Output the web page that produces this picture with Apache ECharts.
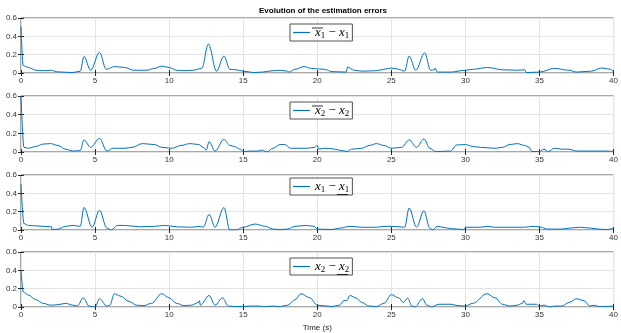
<!DOCTYPE html>
<html>
<head>
<meta charset="utf-8">
<script src="https://cdn.jsdelivr.net/npm/echarts@6/dist/echarts.min.js"></script>
<style>
  html, body { margin: 0; padding: 0; background: #fff; }
  #chart { width: 621px; height: 333px; }
</style>
</head>
<body>
<div id="chart"></div>
<script>
// time (s), error value
const err1 = [
  [0, 0.51], [0.15, 0.08], [0.5, 0.06], [1, 0.03], [1.5, 0.025], [2, 0.03], [2.5, 0.012], [3.5, 0.005],
  [4, 0.02], [4.25, 0.18], [4.7, 0.03], [5.3, 0.225], [5.75, 0.04], [6.3, 0.07], [7, 0.06], [7.6, 0.03],
  [8.5, 0.03], [9, 0.05], [9.5, 0.075], [10, 0.06], [10.5, 0.03], [11, 0.025], [11.6, 0.03], [12.2, 0.05],
  [12.65, 0.315], [13.2, 0.02], [13.7, 0.185], [14.1, 0.04], [14.5, 0.035], [15, 0.02], [15.7, 0.005],
  [16.3, 0.01], [17, 0.025], [17.5, 0.03], [18, 0.02], [18.1, 0.01], [18.5, 0.04], [19.1, 0.07],
  [19.6, 0.05], [20, 0.045], [20.5, 0.04], [21, 0.015], [21.95, 0.01], [22.05, 0.065], [22.5, 0.03],
  [23, 0.02], [24, 0.025], [24.5, 0.04], [25, 0.055], [25.5, 0.04], [25.9, 0.02], [26.2, 0.185],
  [26.65, 0.03], [27.25, 0.22], [27.65, 0.03], [27.9, 0.035], [27.95, 0.055], [28.1, 0.01], [29, 0.01],
  [30, 0.03], [30.5, 0.04], [31.5, 0.06], [32.5, 0.035], [33.5, 0.03], [34, 0.035], [34.1, 0.005],
  [35, 0.01], [36, 0.05], [37, 0.03], [37.5, 0.01], [38.5, 0.02], [39.2, 0.055], [39.8, 0.04], [40, 0.01]
];
const err2 = [
  [0, 0.6], [0.2, 0.05], [0.5, 0.04], [1, 0.06], [1.5, 0.085], [2, 0.09], [2.5, 0.07], [3, 0.03],
  [3.5, 0.01], [4, 0.015], [4.25, 0.13], [4.7, 0.05], [5.3, 0.145], [5.8, 0.01], [6.2, 0.04], [7, 0.04],
  [7.5, 0.05], [8.2, 0.09], [9, 0.08], [9.5, 0.05], [10.2, 0.04], [10.8, 0.07], [11.4, 0.09], [12, 0.08],
  [12.3, 0.05], [12.5, 0.02], [12.7, 0.11], [13.1, 0.01], [13.7, 0.135], [14.1, 0.07], [14.4, 0.06],
  [14.8, 0.03], [15, 0.005], [15.5, 0.01], [16, 0.01], [16.3, 0.02], [16.6, 0.0], [17, 0.04],
  [17.5, 0.08], [17.8, 0.08], [18.2, 0.04], [18.8, 0.04], [19.3, 0.04], [19.8, 0.05], [20, 0.07],
  [20.1, 0.03], [20.5, 0.04], [21, 0.035], [21.5, 0.02], [22, 0.005], [22.3, 0.03], [23, 0.04],
  [23.5, 0.07], [24, 0.09], [24.5, 0.07], [25, 0.04], [25.7, 0.05], [26.2, 0.13], [26.7, 0.05],
  [27.2, 0.14], [27.6, 0.04], [28, 0.005], [29, 0.01], [29.4, 0.075], [30, 0.08], [30.5, 0.06],
  [31, 0.05], [32, 0.04], [32.5, 0.05], [33, 0.08], [33.5, 0.09], [34, 0.07], [34.3, 0.05], [34.5, 0.005],
  [35, 0.005], [35.3, 0.03], [35.6, 0.005], [36, 0.04], [36.5, 0.03], [37, 0.03], [37.5, 0.01],
  [38, 0.01], [39, 0.01], [39.5, 0.01], [40, 0.005]
];
const err3 = [
  [0, 0.5], [0.2, 0.07], [0.5, 0.05], [1, 0.045], [2, 0.035], [2.05, 0.04], [2.1, 0.005], [2.5, 0.01],
  [3, 0.04], [3.5, 0.05], [4, 0.04], [4.25, 0.245], [4.8, 0.03], [5.3, 0.215], [5.8, 0.02], [6.1, 0.0],
  [6.5, 0.05], [7, 0.05], [8, 0.035], [9, 0.04], [9.7, 0.05], [10.5, 0.035], [11.5, 0.03], [12.1, 0.04],
  [12.3, 0.03], [12.7, 0.17], [13.1, 0.03], [13.7, 0.245], [14.1, 0.0], [14.5, 0.0], [15, 0.03],
  [15.8, 0.065], [16.5, 0.04], [17, 0.01], [17.5, 0.005], [18, 0.01], [18.5, 0.04], [19.2, 0.05],
  [19.8, 0.04], [20, 0.01], [21, 0.005], [21.5, 0.02], [22.2, 0.04], [23, 0.03], [24, 0.03],
  [24.5, 0.04], [25, 0.04], [25.9, 0.03], [26.2, 0.24], [26.7, 0.03], [27.2, 0.21], [27.6, 0.02],
  [27.8, 0.0], [28.1, 0.04], [28.5, 0.03], [29, 0.015], [29.9, 0.005], [30, 0.03], [31, 0.03],
  [31.5, 0.04], [32, 0.03], [33, 0.03], [34, 0.03], [34.5, 0.04], [35, 0.035], [35.5, 0.01],
  [36.5, 0.01], [37, 0.02], [37.7, 0.03], [38.5, 0.02], [39, 0.01], [39.5, 0.005], [40, 0.02]
];
const err4 = [
  [0, 0.4], [0.15, 0.165], [0.5, 0.13], [1, 0.08], [1.5, 0.04], [2, 0.02], [2.5, 0.025], [3, 0.04],
  [3.5, 0.02], [3.8, 0.01], [4.2, 0.1], [4.6, 0.01], [5, 0.0], [5.3, 0.09], [5.8, 0.01], [6, 0.02],
  [6.3, 0.145], [6.7, 0.12], [7.3, 0.06], [7.8, 0.02], [8.3, 0.015], [8.8, 0.04], [9.5, 0.145],
  [10, 0.1], [10.5, 0.04], [11, 0.015], [11.5, 0.02], [12, 0.05], [12.05, 0.07], [12.1, 0.02],
  [12.7, 0.125], [13.1, 0.02], [13.6, 0.1], [14, 0.01], [14.5, 0.005], [15, 0.005], [15.5, 0.01],
  [16, 0.01], [16.5, 0.005], [17, 0.01], [17.5, 0.005], [18, 0.02], [18.5, 0.08], [18.9, 0.145],
  [19.5, 0.1], [20, 0.02], [21, 0.005], [21.5, 0.02], [21.8, 0.07], [22, 0.07], [22.2, 0.125],
  [22.6, 0.1], [23, 0.05], [23.5, 0.01], [24, 0.005], [24.5, 0.04], [25, 0.135], [25.5, 0.1],
  [25.8, 0.05], [26.1, 0.095], [26.4, 0.01], [26.6, 0.0], [27.1, 0.09], [27.4, 0.02], [27.7, 0.0],
  [28.2, 0.03], [29, 0.03], [29.5, 0.015], [30, 0.01], [30.5, 0.04], [31.45, 0.145], [32, 0.1],
  [32.5, 0.03], [33, 0.01], [33.5, 0.02], [33.85, 0.04], [33.95, 0.07], [34.1, 0.03], [34.8, 0.03],
  [35, 0.01], [35.3, 0.02], [35.7, 0.0], [36, 0.01], [36.5, 0.01], [37, 0.05], [37.5, 0.09],
  [38, 0.07], [38.4, 0.01], [38.7, 0.02], [39, 0.005], [40, 0.01]
];

const seriesData = [err1, err2, err3, err4];
const seriesNames = ['e1', 'e2', 'e3', 'e4'];
const legendSubs = ['1', '2', '1', '2'];

const gridTops = [18, 96, 175, 252];
const gridHeights = [55, 56, 55, 57];
const legendTops = [24, 102, 178, 258];

const chart = echarts.init(document.getElementById('chart'));

const grids = [];
const xAxes = [];
const yAxes = [];
const series = [];
const legends = [];

for (let i = 0; i < 4; i++) {
  grids.push({
    left: 21, right: 5, top: gridTops[i], height: gridHeights[i],
    show: true, borderColor: '#262626', borderWidth: 0.8, backgroundColor: '#fff'
  });
  // bottom axis with labels + top axis with ticks only
  xAxes.push({
    gridIndex: i, type: 'value', min: 0, max: 40, interval: 5,
    name: i === 3 ? 'Time (s)' : '', nameLocation: 'middle', nameGap: 17,
    nameTextStyle: { fontSize: 8, color: '#262626', fontFamily: 'Liberation Sans' },
    axisLine: { show: false },
    axisTick: { inside: true, length: 3, lineStyle: { color: '#262626' } },
    axisLabel: { fontSize: 8, color: '#333', margin: 4, fontFamily: 'Liberation Sans' },
    splitLine: { show: true, lineStyle: { color: '#e3e3e3', width: 1 } }
  });
  xAxes.push({
    gridIndex: i, type: 'value', position: 'top', min: 0, max: 40, interval: 5,
    axisLine: { show: false },
    axisTick: { inside: true, length: 3, lineStyle: { color: '#262626' } },
    axisLabel: { show: false }, splitLine: { show: false }
  });
  yAxes.push({
    gridIndex: i, type: 'value', min: 0, max: 0.6, interval: 0.2,
    axisLine: { show: false },
    axisTick: { show: true, inside: true, length: 3, lineStyle: { color: '#262626' } },
    axisLabel: { fontSize: 8, color: '#333', margin: 4, fontFamily: 'Liberation Sans' },
    splitLine: { show: true, lineStyle: { color: '#e3e3e3', width: 1 } }
  });
  yAxes.push({
    gridIndex: i, type: 'value', position: 'right', min: 0, max: 0.6, interval: 0.2,
    axisLine: { show: false },
    axisTick: { show: true, inside: true, length: 3, lineStyle: { color: '#262626' } },
    axisLabel: { show: false }, splitLine: { show: false }
  });
  series.push({
    name: seriesNames[i], type: 'line',
    xAxisIndex: i * 2, yAxisIndex: i * 2,
    data: seriesData[i],
    symbol: 'none', smooth: 0.35, smoothMonotone: 'x',
    lineStyle: { color: '#0072BD', width: 1 },
    itemStyle: { color: '#0072BD' }
  });
  const s = legendSubs[i];
  legends.push({
    data: [seriesNames[i]],
    left: 290, top: legendTops[i],
    orient: 'horizontal',
    backgroundColor: '#fff', borderColor: '#262626', borderWidth: 0.8, borderRadius: 0,
    padding: [1, 3, 1, 3],
    icon: 'rect', itemWidth: 17, itemHeight: 1.2, itemGap: 2,
    selectedMode: false,
    formatter: () => '{x|x}{s|' + s + '}{m| − }{x|x}{s|' + s + '}',
    textStyle: {
      rich: {
        x: { fontFamily: 'Liberation Serif', fontStyle: 'italic', fontSize: 13, color: '#000', lineHeight: 16 },
        s: { fontFamily: 'Liberation Serif', fontSize: 9, color: '#000', padding: [6, 0, 0, 0], lineHeight: 16 },
        m: { fontFamily: 'Liberation Serif', fontSize: 13, color: '#000', lineHeight: 16 }
      }
    }
  });
}

// overline / underline marks on legend symbols
const barLines = [
  { x1: 312, x2: 323, y: 28 },
  { x1: 312, x2: 323, y: 106 },
  { x1: 337, x2: 348, y: 194.5 },
  { x1: 337, x2: 348, y: 274.5 }
];

chart.setOption({
  animation: false,
  backgroundColor: '#fff',
  title: {
    text: 'Evolution of the estimation errors',
    left: 318, top: 2, textAlign: 'center',
    textStyle: { fontSize: 8, fontWeight: 'bold', color: '#000', fontFamily: 'Liberation Sans' }
  },
  grid: grids,
  xAxis: xAxes,
  yAxis: yAxes,
  legend: legends,
  series: series,
  graphic: barLines.map(b => ({
    type: 'line', z: 100,
    shape: { x1: b.x1, y1: b.y, x2: b.x2, y2: b.y },
    style: { stroke: '#000', lineWidth: 0.8 }
  }))
});
</script>
</body>
</html>
